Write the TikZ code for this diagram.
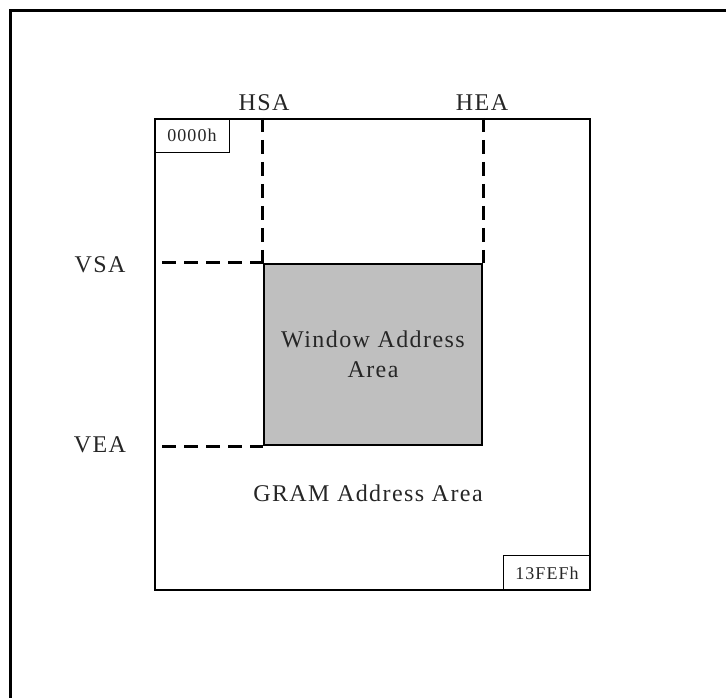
\documentclass[tikz,border=0pt]{standalone}
\usepackage{fontspec}
\setmainfont{Liberation Serif}
\newfontfamily\lblfont[LetterSpace=6]{Liberation Serif}
\newfontfamily\smallfont[LetterSpace=6]{Liberation Serif}
\begin{document}
\begin{tikzpicture}[x=1pt,y=-1pt,
  frameline/.style={line width=3pt},
  mainline/.style={line width=2.3pt},
  dashline/.style={line width=2.8pt, dash pattern=on 14pt off 8pt},
  lbl/.style={font=\lblfont\fontsize{24}{27}\selectfont, text=black!85, inner sep=0pt},
  addrbox/.style={draw, line width=1.2pt, font=\smallfont\fontsize{18}{20}\selectfont, text=black!85, inner sep=0pt, anchor=north west},
  winbox/.style={draw, mainline, fill=black!25, minimum width=218pt, minimum height=181pt, inner sep=0pt, align=center, font=\lblfont\fontsize{24}{30}\selectfont, text=black!85}
]
\useasboundingbox (0,0) rectangle (726,697);
\clip (0,0) rectangle (726,697);
\fill[white] (0,0) rectangle (726,697);
% outer frame
\draw[frameline] (10,740) |- (760,10);
% main GRAM area
\node[draw, mainline, minimum width=435pt, minimum height=471pt, inner sep=0pt] (gram) at (372.5,354.5) {};
% window
\node[winbox] (win) at (373,354.5) {Window Address\\Area};
% address boxes
\node[addrbox, minimum width=75pt, minimum height=34pt] (start) at (gram.north west) {0000h};
\node[addrbox, anchor=south east, minimum width=87pt, minimum height=35pt] (endaddr) at (gram.south east) {13FEFh};
% labels
\node[lbl] (hsa) at (264,103) {HSA};
\node[lbl] (hea) at (482,103) {HEA};
\node[lbl] (vsa) at (100,265) {VSA};
\node[lbl] (vea) at (100,445) {VEA};
\node[lbl] (gramlbl) at (368,493) {GRAM Address Area};
% dashed guides
\coordinate (hsatop) at (win.north west |- gram.north);
\coordinate (heatop) at (win.north east |- gram.north);
\coordinate (vsaleft) at (162,0 |- win.north west);
\coordinate (vealeft) at (162,0 |- win.south west);
\draw[dashline] (hsatop) -- (win.north west);
\draw[dashline] (heatop) -- (win.north east);
\draw[dashline] (vsaleft) -- (win.north west);
\draw[dashline] (vealeft) -- (win.south west);
\end{tikzpicture}
\end{document}
